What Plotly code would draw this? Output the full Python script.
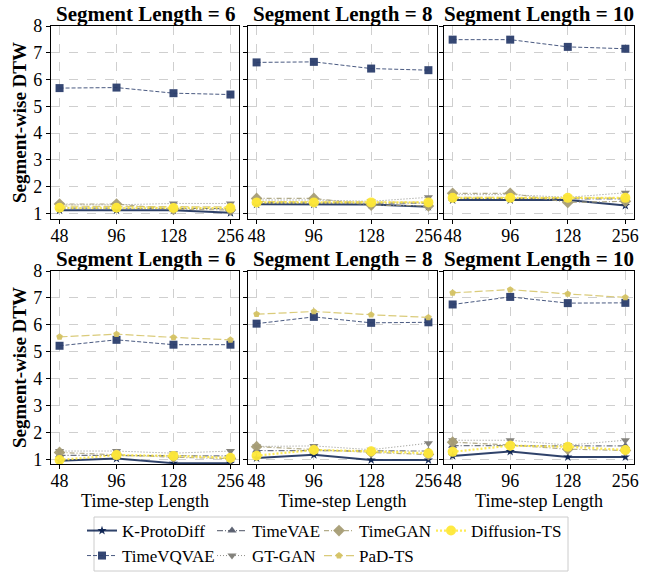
import plotly.graph_objects as go

# ---------------- data ----------------
timesteps = ["48", "96", "128", "256"]
seg_lengths = [6, 8, 10]
models = ["K-ProtoDiff", "TimeVQVAE", "TimeVAE", "GT-GAN", "TimeGAN", "PaD-TS", "Diffusion-TS"]

# top row: one list per segment length (6, 8, 10), values for time-steps 48, 96, 128, 256
kproto_top = [[1.12, 1.12, 1.12, 1.02], [1.34, 1.34, 1.33, 1.25], [1.50, 1.50, 1.50, 1.29]]
timevqvae_top = [[5.68, 5.70, 5.49, 5.44], [6.64, 6.66, 6.41, 6.35], [7.49, 7.49, 7.22, 7.15]]
timevae_top = [[1.20, 1.20, 1.18, 1.18], [1.40, 1.40, 1.38, 1.38], [1.56, 1.56, 1.54, 1.54]]
gtgan_top = [[1.32, 1.32, 1.37, 1.37], [1.50, 1.50, 1.45, 1.60], [1.70, 1.70, 1.60, 1.77]]
timegan_top = [[1.35, 1.35, 1.15, 1.13], [1.56, 1.56, 1.31, 1.28], [1.75, 1.75, 1.41, 1.45]]
padts_top = [[1.27, 1.27, 1.25, 1.24], [1.44, 1.44, 1.42, 1.42], [1.60, 1.60, 1.58, 1.58]]
diffts_top = [[1.21, 1.21, 1.20, 1.20], [1.41, 1.41, 1.41, 1.41], [1.58, 1.58, 1.58, 1.58]]

# bottom row
kproto_bot = [[0.97, 1.05, 0.88, 0.88], [1.07, 1.19, 1.00, 1.00], [1.15, 1.31, 1.11, 1.11]]
timevqvae_bot = [[5.23, 5.45, 5.27, 5.27], [6.05, 6.30, 6.08, 6.10], [6.76, 7.04, 6.81, 6.82]]
timevae_bot = [[1.17, 1.17, 1.15, 1.15], [1.35, 1.35, 1.33, 1.33], [1.53, 1.53, 1.52, 1.52]]
gtgan_bot = [[1.33, 1.33, 1.25, 1.33], [1.50, 1.52, 1.38, 1.62], [1.73, 1.73, 1.55, 1.73]]
timegan_bot = [[1.28, 1.20, 1.10, 1.05], [1.49, 1.38, 1.28, 1.20], [1.66, 1.55, 1.40, 1.35]]
padts_bot = [[5.56, 5.66, 5.54, 5.45], [6.40, 6.50, 6.38, 6.28], [7.19, 7.31, 7.15, 7.02]]
diffts_bot = [[1.00, 1.18, 1.15, 1.08], [1.16, 1.37, 1.32, 1.25], [1.30, 1.53, 1.49, 1.37]]

top_data = [kproto_top, timevqvae_top, timevae_top, gtgan_top, timegan_top, padts_top, diffts_top]
bot_data = [kproto_bot, timevqvae_bot, timevae_bot, gtgan_bot, timegan_bot, padts_bot, diffts_bot]

# ---------------- styles ----------------
colors = ["#0b2150", "#2a3d6b", "#575d6d", "#7d7c76", "#a69d75", "#d4c263", "#fee838"]
symbols = ["star", "square", "triangle-up", "triangle-down", "diamond", "pentagon", "circle"]
msizes = [7, 8, 8, 8, 9, 7, 10]
dashes = ["solid", "4px,2px", "6px,2px,1px,2px", "1px,2px", "5px,2px,1px,2px", "8px,3px", "2px,2px"]
lwidths = [2.0, 1.0, 1.2, 1.0, 1.2, 1.2, 2.2]
# legend layout: two rows, columns aligned like the reference
legend_id = ["legend", "legend2", "legend", "legend2", "legend", "legend2", "legend"]
legend_rank = [1, 1, 2, 2, 3, 3, 4]
legend_w = [85, 85, 62, 62, 67, 100, 100]

FONT = "Liberation Serif"


def rgba(hx, a):
    hx = hx.lstrip("#")
    return f"rgba({int(hx[0:2], 16)},{int(hx[2:4], 16)},{int(hx[4:6], 16)},{a})"


fig = go.Figure()

L, R = 50, 20
W, H = 654, 572
GW = W - L - R


def fx(p):
    return (p - L) / GW


def fy(p):
    return 1 - p / H


xdom = [[fx(51), fx(239)], [fx(248), fx(437)], [fx(444), fx(634)]]
ydom = [[fy(219), fy(26)], [fy(464), fy(271)]]
yranges = [[0.79, 8.0], [0.85, 8.0]]

for r, rowdata in enumerate([top_data, bot_data]):
    for c in range(3):
        idx = r * 3 + c + 1
        xa = "x" if idx == 1 else f"x{idx}"
        ya = "y" if idx == 1 else f"y{idx}"
        for m, name in enumerate(models):
            fig.add_trace(go.Scatter(
                x=timesteps, y=rowdata[m][c], name=name,
                mode="lines+markers", xaxis=xa, yaxis=ya,
                line=dict(color=rgba(colors[m], 0.85), width=lwidths[m], dash=dashes[m]),
                marker=dict(symbol=symbols[m], size=msizes[m], color=rgba(colors[m], 0.95), line=dict(width=0)),
                legend=legend_id[m], legendrank=legend_rank[m], legendwidth=legend_w[m],
                showlegend=(idx == 1),
            ))
        axx = dict(domain=xdom[c], type="category", range=[-0.15, 3.15],
                   showline=True, linecolor="black", linewidth=1.2, mirror=True,
                   ticks="outside", ticklen=4, tickcolor="black", ticklabelstandoff=-4,
                   showgrid=True, gridcolor="#cfcfcf", griddash="dash", gridwidth=0.8,
                   tickfont=dict(family=FONT, size=18, color="black"),
                   anchor=ya, zeroline=False, automargin=False)
        if r == 1:
            axx["title"] = dict(text="Time-step Length", font=dict(family=FONT, size=18, color="black"), standoff=3)
        axy = dict(domain=ydom[r], range=yranges[r], tickvals=[1, 2, 3, 4, 5, 6, 7, 8],
                   showline=True, linecolor="black", linewidth=1.2, mirror=True,
                   ticks="outside", ticklen=4, tickcolor="black",
                   showgrid=True, gridcolor="#cfcfcf", griddash="dash", gridwidth=0.8,
                   tickfont=dict(family=FONT, size=18, color="black"),
                   showticklabels=(c == 0), anchor=xa, zeroline=False, automargin=False)
        if c == 0:
            axy["title"] = dict(text="<b>Segment-wise DTW</b>", font=dict(family=FONT, size=19, color="black"), standoff=1)
        fig.layout["xaxis" if idx == 1 else f"xaxis{idx}"] = axx
        fig.layout["yaxis" if idx == 1 else f"yaxis{idx}"] = axy
        fig.add_annotation(
            text=f"<b>Segment Length = {seg_lengths[c]}</b>",
            x=(xdom[c][0] + xdom[c][1]) / 2, y=fy(14 if r == 0 else 259),
            xref="paper", yref="paper", xanchor="center", yanchor="middle",
            showarrow=False, font=dict(family=FONT, size=21, color="black"))

leg_common = dict(orientation="h", xanchor="left", yanchor="middle",
                  borderwidth=0, bgcolor="rgba(0,0,0,0)",
                  font=dict(family=FONT, size=17, color="black"),
                  itemwidth=30, tracegroupgap=0)

fig.update_layout(
    width=W, height=H,
    margin=dict(l=L, r=R, t=0, b=0, pad=0, autoexpand=False),
    paper_bgcolor="white", plot_bgcolor="white",
    font=dict(family=FONT, color="black"),
    legend=dict(x=fx(82), y=fy(531), **leg_common),
    legend2=dict(x=fx(82), y=fy(556), **leg_common),
    shapes=[dict(type="rect", xref="paper", yref="paper",
                 x0=fx(94), x1=fx(568), y0=fy(571), y1=fy(517),
                 line=dict(color="#cccccc", width=1), fillcolor="rgba(0,0,0,0)", layer="above")],
)

fig.write_html("out.html", config={"displayModeBar": False},
               post_script="document.body.style.margin='0';document.body.style.padding='0';")
